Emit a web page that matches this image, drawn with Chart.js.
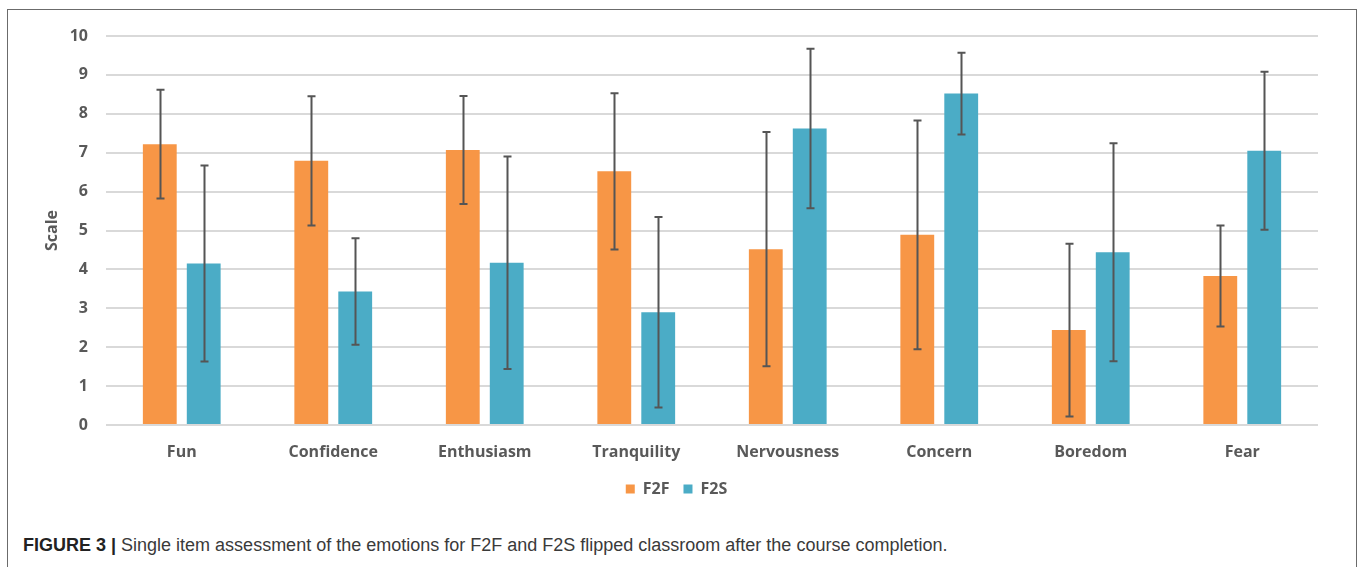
<!DOCTYPE html>
<html>
<head>
<meta charset="utf-8">
<script src="https://cdn.jsdelivr.net/npm/chart.js@4.4.1/dist/chart.umd.min.js"></script>
<style>
  html, body { margin: 0; padding: 0; background: #fff; }
  body { width: 1360px; height: 567px; position: relative; overflow: hidden; }
  #frame { position: absolute; left: 7px; top: 9px; width: 1350px; height: 600px;
           border: 1.5px solid #6b6b6b; box-sizing: border-box; }
  #wrap { position: absolute; left: 0; top: 0; width: 1360px; height: 520px; }
  #caption { position: absolute; left: 23px; top: 535px; font-family: "Liberation Sans", Arial, sans-serif;
             font-size: 18px; color: #3a3a3a; white-space: nowrap; }
  #caption b { font-weight: bold; color: #222; }
</style>
</head>
<body>
<div id="frame"></div>
<div id="wrap"><canvas id="c"></canvas></div>
<div id="caption"><b>FIGURE 3 |</b> Single item assessment of the emotions for F2F and F2S flipped classroom after the course completion.</div>
<script>
const categories = ["Fun", "Confidence", "Enthusiasm", "Tranquility", "Nervousness", "Concern", "Boredom", "Fear"];
const seriesNames = ["F2F", "F2S"];
const f2fMeans = [7.22, 6.79, 7.07, 6.52, 4.52, 4.89, 2.44, 3.83];
const f2fErrors = [1.40, 1.66, 1.39, 2.01, 3.01, 2.94, 2.22, 1.30];
const f2sMeans = [4.15, 3.43, 4.17, 2.90, 7.62, 8.52, 4.44, 7.05];
const f2sErrors = [2.52, 1.37, 2.73, 2.45, 2.05, 1.05, 2.80, 2.03];
const yTicks = [0, 1, 2, 3, 4, 5, 6, 7, 8, 9, 10];

const errorBarPlugin = {
  id: 'errorBars',
  afterDatasetsDraw(chart) {
    const ctx = chart.ctx;
    const yScale = chart.scales.y;
    ctx.save();
    ctx.strokeStyle = '#555555';
    ctx.lineWidth = 2;
    chart.data.datasets.forEach((ds, di) => {
      const meta = chart.getDatasetMeta(di);
      meta.data.forEach((bar, i) => {
        const v = ds.data[i], e = ds.errors[i];
        const x = Math.round(bar.x) + 0.5;
        const yTop = yScale.getPixelForValue(v + e);
        const yBot = yScale.getPixelForValue(v - e);
        ctx.beginPath();
        ctx.moveTo(x, yTop); ctx.lineTo(x, yBot);
        ctx.moveTo(x - 4, yTop); ctx.lineTo(x + 4, yTop);
        ctx.moveTo(x - 4, yBot); ctx.lineTo(x + 4, yBot);
        ctx.stroke();
      });
    });
    ctx.restore();
  }
};

const labelFont = { family: "'Open Sans', sans-serif", weight: 'bold', size: 16 };

new Chart(document.getElementById('c'), {
  type: 'bar',
  data: {
    labels: categories,
    datasets: [
      { label: seriesNames[0], data: f2fMeans, errors: f2fErrors, backgroundColor: '#F79646',
        categoryPercentage: 0.58, barPercentage: 0.77 },
      { label: seriesNames[1], data: f2sMeans, errors: f2sErrors, backgroundColor: '#4BACC6',
        categoryPercentage: 0.58, barPercentage: 0.77 }
    ]
  },
  options: {
    responsive: true,
    maintainAspectRatio: false,
    animation: false,
    layout: { padding: { left: 35, right: 42, top: 36, bottom: 13 } },
    plugins: {
      tooltip: { enabled: false },
      legend: {
        position: 'bottom',
        labels: { boxWidth: 9, boxHeight: 9, padding: 14, color: '#595959', font: labelFont }
      }
    },
    scales: {
      x: {
        afterFit(scale) { scale.height = 42; },
        grid: { display: false, drawTicks: false },
        border: { display: false },
        ticks: { color: '#595959', font: labelFont, padding: 18 }
      },
      y: {
        min: 0, max: 10,
        afterFit(scale) { scale.width = 71; },
        afterBuildTicks(scale) { scale.ticks = yTicks.map(v => ({ value: v })); },
        grid: { color: '#d9d9d9', lineWidth: 2, drawTicks: false },
        border: { display: false },
        ticks: { color: '#595959', font: labelFont, padding: 18 },
        title: { display: true, text: 'Scale', color: '#595959', font: labelFont, padding: { top: 8, bottom: 0 } }
      }
    }
  },
  plugins: [errorBarPlugin]
});
</script>
</body>
</html>
